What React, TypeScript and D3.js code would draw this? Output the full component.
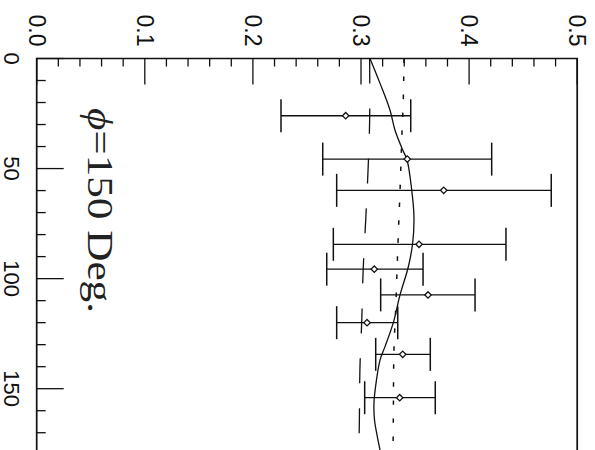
import React, { useEffect, useRef } from "react";
import * as d3 from "d3";

// measured points (angle in deg, value) with error bars
const angles = [26.0, 45.7, 59.9, 84.4, 95.7, 107.4, 120.0, 134.4, 154.1];
const values = [0.2858, 0.3428, 0.3765, 0.3537, 0.3123, 0.362, 0.3056, 0.3386, 0.3358];
const errLow = [0.226, 0.2646, 0.2775, 0.2744, 0.2683, 0.3182, 0.2775, 0.3136, 0.3034];
const errHigh = [0.346, 0.4209, 0.476, 0.4341, 0.3574, 0.4055, 0.334, 0.3641, 0.3687];

// solid curve
const solidAngles = [0, 11.3, 23.4, 32.5, 41.6, 46.1, 59.7, 71.9, 83.8, 94.6, 107.4, 120, 130.9, 137, 147.5, 156.6, 164.2, 171, 180];
const solidValues = [0.3083, 0.3176, 0.3268, 0.3314, 0.3386, 0.3426, 0.3469, 0.349, 0.3478, 0.3438, 0.3361, 0.3299, 0.3222, 0.3176, 0.3139, 0.312, 0.3125, 0.3148, 0.3185];

// long dashed curve
const dashAngles = [0, 28, 51, 73, 96, 119, 141, 164, 180];
const dashValues = [0.308, 0.308, 0.3065, 0.3044, 0.302, 0.3007, 0.299, 0.2985, 0.298];

// dotted curve
const dotAngles = [0, 19, 34, 60, 84, 114, 132, 164, 180];
const dotValues = [0.3398, 0.3391, 0.3379, 0.3361, 0.3342, 0.3321, 0.3305, 0.3299, 0.3296];

const valueTicks = [0, 0.1, 0.2, 0.3, 0.4, 0.5];
const valueTickLabels = ["0.0", "0.1", "0.2", "0.3", "0.4", "0.5"];
const angleTicks = [0, 50, 100, 150];

export default function App() {
  const ref = useRef<SVGSVGElement>(null);

  useEffect(() => {
    const svg = d3.select(ref.current);
    svg.selectAll("*").remove();

    // plot is rotated: angle runs downwards, value runs to the right
    const yScale = d3.scaleLinear().domain([0, 180]).range([58.5, 58.5 + 180 * 2.2013]);
    const xScale = d3.scaleLinear().domain([0, 0.5]).range([36.7, 577.2]);

    const top = yScale(0);
    const bottom = yScale(180);
    const left = xScale(0);
    const right = xScale(0.5);

    const ink = "#111";

    // frame
    svg.append("path")
      .attr("d", `M${left},${bottom}V${top}H${right}V${bottom}`)
      .attr("fill", "none")
      .attr("stroke", ink)
      .attr("stroke-width", 1.7);

    // top ticks (value axis)
    const minorV = d3.range(0, 0.5001, 0.02);
    svg.append("g").selectAll("line")
      .data(minorV)
      .enter()
      .append("line")
      .attr("x1", d => xScale(d))
      .attr("x2", d => xScale(d))
      .attr("y1", top)
      .attr("y2", d => top + (Math.abs(d * 10 - Math.round(d * 10)) < 1e-6 ? 26 : 8))
      .attr("stroke", ink)
      .attr("stroke-width", 1.3);

    // left ticks (angle axis)
    const minorA = d3.range(0, 181, 10);
    svg.append("g").selectAll("line")
      .data(minorA)
      .enter()
      .append("line")
      .attr("x1", left)
      .attr("x2", d => left + (d % 50 === 0 ? 27 : 9))
      .attr("y1", d => yScale(d))
      .attr("y2", d => yScale(d))
      .attr("stroke", ink)
      .attr("stroke-width", 1.3);

    // tick labels, rotated
    svg.append("g").selectAll("text")
      .data(valueTicks)
      .enter()
      .append("text")
      .attr("transform", d => `translate(${xScale(d)},30.5) rotate(90)`)
      .attr("text-anchor", "middle")
      .attr("dominant-baseline", "central")
      .attr("font-family", "'Liberation Sans', Arial, sans-serif")
      .attr("font-size", 23)
      .attr("fill", ink)
      .text((d, i) => valueTickLabels[i]);

    svg.append("g").selectAll("text")
      .data(angleTicks)
      .enter()
      .append("text")
      .attr("transform", d => `translate(11.5,${yScale(d)}) rotate(90)`)
      .attr("text-anchor", "middle")
      .attr("dominant-baseline", "central")
      .attr("font-family", "'Liberation Sans', Arial, sans-serif")
      .attr("font-size", 22)
      .attr("fill", ink)
      .text(d => String(d));

    // curves
    const line = d3.line<[number, number]>()
      .x(d => xScale(d[1]))
      .y(d => yScale(d[0]))
      .curve(d3.curveCatmullRom);

    svg.append("path")
      .attr("d", line(solidAngles.map((a, i) => [a, solidValues[i]]) as [number, number][]))
      .attr("fill", "none")
      .attr("stroke", ink)
      .attr("stroke-width", 1.3);

    svg.append("path")
      .attr("d", line(dashAngles.map((a, i) => [a, dashValues[i]]) as [number, number][]))
      .attr("fill", "none")
      .attr("stroke", ink)
      .attr("stroke-width", 1.3)
      .attr("stroke-dasharray", "25 25");

    svg.append("path")
      .attr("d", line(dotAngles.map((a, i) => [a, dotValues[i]]) as [number, number][]))
      .attr("fill", "none")
      .attr("stroke", ink)
      .attr("stroke-width", 1.5)
      .attr("stroke-dasharray", "4.5 13.5");

    // error bars
    const bars = svg.append("g");
    angles.forEach((a, i) => {
      const y = yScale(a);
      bars.append("line")
        .attr("x1", xScale(errLow[i]))
        .attr("x2", xScale(errHigh[i]))
        .attr("y1", y)
        .attr("y2", y)
        .attr("stroke", ink)
        .attr("stroke-width", 1.3);
      [errLow[i], errHigh[i]].forEach(v => {
        bars.append("line")
          .attr("x1", xScale(v))
          .attr("x2", xScale(v))
          .attr("y1", y - 16.5)
          .attr("y2", y + 16.5)
          .attr("stroke", ink)
          .attr("stroke-width", 1.5);
      });
      bars.append("path")
        .attr("transform", `translate(${xScale(values[i])},${y})`)
        .attr("d", "M0,-3.2L3.2,0L0,3.2L-3.2,0Z")
        .attr("fill", "#fff")
        .attr("stroke", ink)
        .attr("stroke-width", 1.3);
    });

    // annotation
    const label = svg.append("text")
      .attr("transform", `translate(88,108) rotate(90)`)
      .attr("font-family", "'Liberation Serif', 'Times New Roman', serif")
      .attr("font-size", 36)
      .attr("fill", "#222")
      .attr("textLength", 205)
      .attr("lengthAdjust", "spacingAndGlyphs");
    label.append("tspan").attr("font-style", "italic").text("\u03D5");
    label.append("tspan").text("=150 Deg.");
  }, []);

  return (
    <svg
      ref={ref}
      width={595}
      height={450}
      style={{ position: "absolute", left: 0, top: 0, background: "#fff" }}
    />
  );
}
